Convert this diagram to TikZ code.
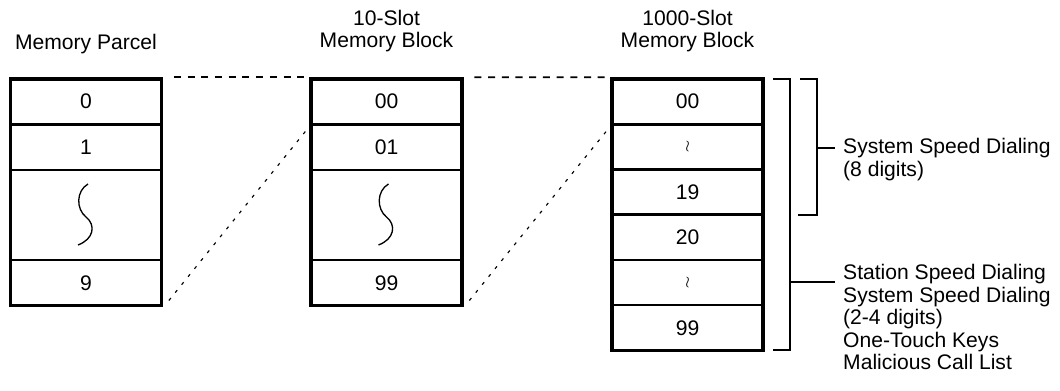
\documentclass[tikz,border=0pt]{standalone}
\usepackage{fontspec}
\setmainfont{Liberation Sans}
\usetikzlibrary{fit}

\begin{document}
\begin{tikzpicture}[x=0.02cm,y=-0.02cm,font=\fontsize{12}{12.8}\selectfont]
        %
        % `slot' is one row of a block, `gap' is the tall row with the squiggle.
        % `frame' is the heavy outline round a whole block.
        \tikzstyle{slot} = [draw,line width=1.3pt,minimum width=3.02cm,minimum height=0.91cm,inner sep=0pt,outer sep=0pt,anchor=north]
        \tikzstyle{gap} = [slot,minimum height=1.8cm]
        \tikzstyle{frame} = [draw,line width=2.1pt,inner sep=0pt]
        \tikzstyle{link} = [line width=1pt,dash pattern=on 4pt off 3.8pt]
        \tikzstyle{slant} = [line width=0.65pt,dash pattern=on 1.8pt off 4pt]
        \tikzstyle{brace} = [line width=1.2pt]
        \tikzstyle{squiggle} = [line width=0.75pt]
        \newcommand{\elide}{{\small$\wr$}}
        %
        \useasboundingbox (0,0) rectangle (1060,391);
        %
        % Titles
        \node (t1) at (86,44) {Memory Parcel};
        \node[align=center] (t2) at (386.5,31) {10-Slot\\Memory Block};
        \node[align=center] (t3) at (687.5,31) {1000-Slot\\Memory Block};
        %
        % Memory parcel
        \node[slot] (c10) at (86,79) {0};
        \node[slot] (c11) at (86,124.5) {1};
        \node[gap] (c12) at (86,170) {};
        \node[slot] (c13) at (86,260) {9};
        \node[frame,fit=(c10)(c13)] (b1) {};
        %
        % 10-slot block
        \node[slot] (c20) at (386.5,79) {00};
        \node[slot] (c21) at (386.5,124.5) {01};
        \node[gap] (c22) at (386.5,170) {};
        \node[slot] (c23) at (386.5,260) {99};
        \node[frame,fit=(c20)(c23)] (b2) {};
        %
        % 1000-slot block
        \node[slot] (c30) at (687.5,79) {00};
        \node[slot] (c31) at (687.5,124.2) {\elide};
        \node[slot] (c32) at (687.5,169.4) {19};
        \node[slot] (c33) at (687.5,214.6) {20};
        \node[slot] (c34) at (687.5,259.8) {\elide};
        \node[slot] (c35) at (687.5,305) {99};
        \node[frame,fit=(c30)(c35)] (b3) {};
        %
        % Squiggles
        \foreach \c in {c12,c22}
          \draw[squiggle,shift={(\c.center)}] (2,-31) .. controls (-10,-24) and (-10,-6) .. (0,2)
            .. controls (10,10) and (8,24) .. (-8,30);
        %
        % Dashed links
        \draw[link,shorten <=6pt] (b1.north east) -- (b2.north west);
        \draw[link,shorten <=6pt] (b2.north east) -- (b3.north west);
        \draw[slant,shorten <=5pt,shorten >=3pt] (b1.south east) -- (c21.north west);
        \draw[slant,shorten <=5pt,shorten >=3pt] (b2.south east) -- (c31.north west);
        %
        % Brackets
        \draw[brace] (800,79) -- (817,79) -- (817,215) -- (798,215);
        \draw[brace] (817,148) -- (835,148);
        \draw[brace] (773,79) -- (790,79) -- (790,350) -- (773,350);
        \draw[brace] (790,282) -- (835,282);
        %
        % Labels
        \node[anchor=west,align=left] (l1) at (837,159.5) {System Speed Dialing\\(8 digits)};
        \node[anchor=west,align=left] (l2) at (837,317) {Station Speed Dialing\\System Speed Dialing\\(2-4 digits)\\One-Touch Keys\\Malicious Call List};
        %
\end{tikzpicture}
\end{document}
